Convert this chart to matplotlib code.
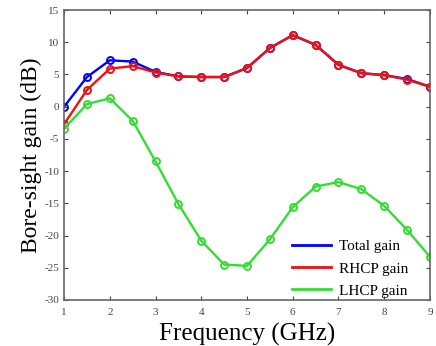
import numpy as np
import matplotlib
matplotlib.use('Agg')
import matplotlib.pyplot as plt

# frequency (GHz)
freq = [1, 1.5, 2, 2.5, 3, 3.5, 4, 4.5, 5, 5.5, 6, 6.5, 7, 7.5, 8, 8.5, 9]
# bore-sight gain (dB)
total_gain = [0.0, 4.6, 7.2, 7.0, 5.4, 4.7, 4.6, 4.6, 6.0, 9.1, 11.1, 9.6, 6.5, 5.2, 4.9, 4.3, 3.1]
rhcp_gain = [-2.7, 2.6, 5.9, 6.3, 5.3, 4.7, 4.6, 4.6, 6.0, 9.1, 11.1, 9.6, 6.5, 5.2, 4.9, 4.2, 3.1]
lhcp_gain = [-3.4, 0.4, 1.3, -2.2, -8.5, -15.1, -20.8, -24.5, -24.7, -20.6, -15.6, -12.4, -11.7, -12.8, -15.4, -19.1, -23.3]

plt.rcParams['font.family'] = ['Liberation Serif', 'DejaVu Serif']
plt.rcParams['axes.unicode_minus'] = False

fig = plt.figure(figsize=(4.36, 3.46), dpi=100)
ax = fig.add_axes([0.147, 0.133, 0.839, 0.838])

mk = dict(marker='o', markersize=5, markerfacecolor='none', markeredgewidth=1.4, linewidth=1.7)
ax.plot(freq, total_gain, color='#0000ff', label='Total gain', **mk)
ax.plot(freq, rhcp_gain, color='#ee1111', label='RHCP gain', **mk)
ax.plot(freq, lhcp_gain, color='#33dd33', label='LHCP gain', **mk)

ax.set_xlim(1, 9)
ax.set_ylim(-30, 15)
ax.set_xticks(range(1, 10))
ax.set_yticks(range(-30, 16, 5))
ax.tick_params(direction='in', top=True, right=True, labelsize=8, length=3, colors='#444444')
ax.tick_params(axis='x', pad=6)
for s in ax.spines.values():
    s.set_color('#666666')
    s.set_linewidth(1.2)

ax.set_xlabel('Frequency (GHz)', fontsize=18, labelpad=4)
ax.set_ylabel('Bore-sight gain (dB)', fontsize=17, labelpad=2)

leg = ax.legend(loc='lower right', bbox_to_anchor=(0.958, -0.013), frameon=False, fontsize=11,
                handlelength=2.6, handletextpad=0.5, labelspacing=0.55, borderaxespad=0)
for h in leg.get_lines():
    h.set_marker('')
    h.set_linewidth(2)

fig.savefig('out.png', dpi=100)
